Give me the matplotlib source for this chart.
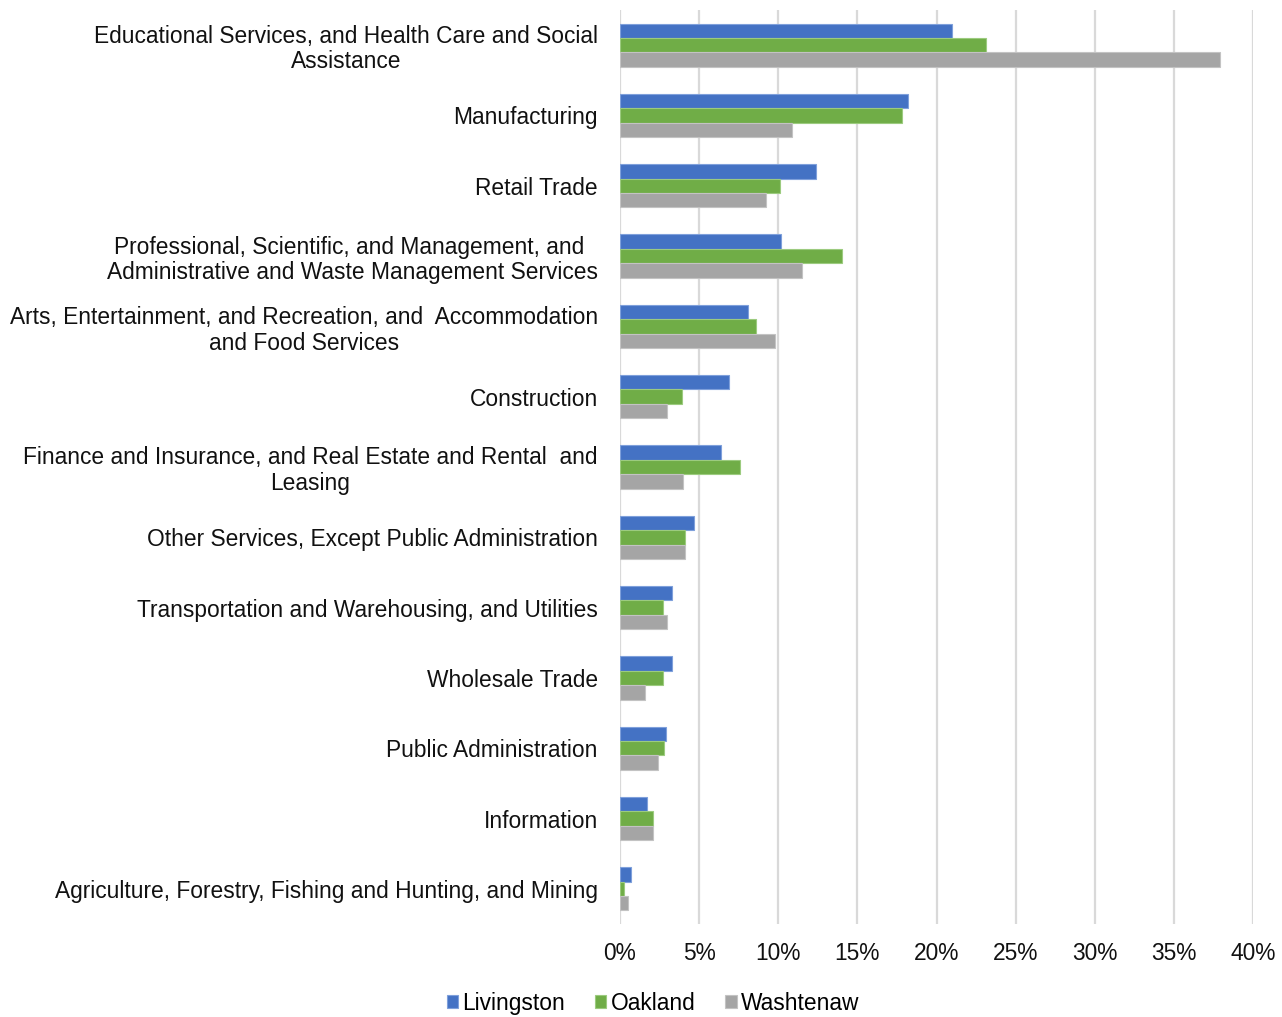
import matplotlib
matplotlib.use("Agg")
import matplotlib.pyplot as plt
import numpy as np
from matplotlib.ticker import FuncFormatter

categories = [
    "Educational Services, and Health Care and Social\nAssistance",
    "Manufacturing",
    "Retail Trade",
    "Professional, Scientific, and Management, and \nAdministrative and Waste Management Services",
    "Arts, Entertainment, and Recreation, and  Accommodation\nand Food Services",
    "Construction",
    "Finance and Insurance, and Real Estate and Rental  and\nLeasing",
    "Other Services, Except Public Administration",
    "Transportation and Warehousing, and Utilities",
    "Wholesale Trade",
    "Public Administration",
    "Information",
    "Agriculture, Forestry, Fishing and Hunting, and Mining",
]
livingston = [21.0, 18.2, 12.4, 10.2, 8.1, 6.9, 6.4, 4.7, 3.26, 3.26, 2.88, 1.68, 0.7]
oakland    = [23.1, 17.8, 10.1, 14.0, 8.6, 3.9, 7.6, 4.1, 2.7, 2.7, 2.77, 2.1, 0.27]
washtenaw  = [37.9, 10.9, 9.2, 11.5, 9.8, 3.0, 4.0, 4.1, 3.0, 1.57, 2.37, 2.1, 0.5]
series_names = ["Livingston", "Oakland", "Washtenaw"]
colors = ["#4472C4", "#70AD47", "#A5A5A5"]
edge_colors = ["#7FA0DB", "#9CCB7F", "#C3C3C3"]
xticks = [0, 5, 10, 15, 20, 25, 30, 35, 40]

plt.rcParams['font.family'] = ['Liberation Sans', 'DejaVu Sans']
FS = 16.4

fig = plt.figure(figsize=(12.82, 10.17), dpi=100)
ax = fig.add_axes([620/1282, 1 - 924/1017, (1253-620)/1282, (924-10)/1017])

n = len(categories)
y = np.arange(n)
h = 0.205
for i, (vals, name) in enumerate(zip([livingston, oakland, washtenaw], series_names)):
    ax.barh(y + (i - 1) * h, vals, height=h, color=colors[i], edgecolor=edge_colors[i],
            linewidth=0.8, label=name, zorder=3)

ax.set_ylim(n - 0.5, -0.5)
ax.set_xlim(0, 40)
ax.set_xticks(xticks)
ax.xaxis.set_major_formatter(FuncFormatter(lambda v, p: f"{int(v)}%"))
ax.set_yticks(y)
ax.set_yticklabels(categories)
for t in ax.get_yticklabels():
    t.set_multialignment('center')
    t.set_fontsize(FS)
    t.set_linespacing(1.15)
for t in ax.get_xticklabels():
    t.set_fontsize(FS)
ax.tick_params(axis='both', length=0, colors='#111111')
ax.tick_params(axis='y', pad=16)
ax.tick_params(axis='x', pad=13)
ax.grid(axis='x', color='#D9D9D9', linewidth=1.6, zorder=0)
for s in ax.spines.values():
    s.set_visible(False)

handles, labels = ax.get_legend_handles_labels()
fig.legend(handles, labels, loc='lower center', bbox_to_anchor=(653/1282, -0.018), ncol=3,
           frameon=False, fontsize=FS, handlelength=0.5, handleheight=0.5,
           handletextpad=0.2, columnspacing=1.3)

fig.savefig("out.png", dpi=100)
